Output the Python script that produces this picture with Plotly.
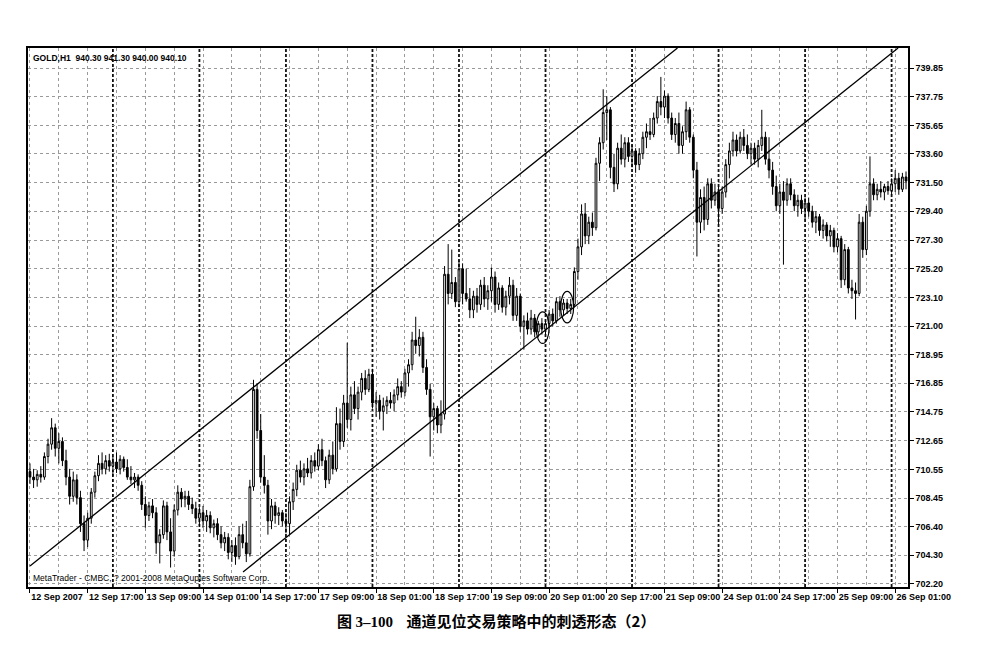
import plotly.graph_objects as go
import pandas as pd

# ---------------- data (GOLD, H1) ----------------
opens = [
    710.4, 710.0, 709.8, 710.2, 710.0, 711.5, 712.4, 713.6, 712.1, 712.6,
    711.2, 710.0, 708.6, 709.8, 708.5, 706.6, 705.4, 707.0, 708.9, 710.1,
    711.0, 710.6, 711.2, 710.8, 711.1, 710.6, 711.3, 710.7, 710.0, 709.8,
    710.0, 709.4, 708.0, 707.2, 707.9, 707.4, 705.2, 705.8, 707.9, 706.0,
    704.6, 707.6, 708.9, 708.4, 708.6, 708.0, 707.7, 707.0, 707.4, 706.8,
    707.2, 706.3, 706.6, 705.8, 705.2, 705.6, 704.5, 705.0, 704.2, 705.8,
    705.2, 704.4, 709.3, 716.4, 713.4, 710.0, 709.4, 706.8, 707.9, 707.2,
    707.4, 706.8, 706.6, 708.2, 709.1, 710.5, 710.0, 710.6, 710.3, 711.2,
    710.8, 712.0, 711.2, 709.8, 711.6, 710.6, 713.9, 712.6, 715.4, 714.2,
    716.0, 715.0, 716.2, 717.2, 716.4, 717.5, 715.4, 715.6, 714.8, 715.2,
    715.6, 715.4, 716.0, 716.6, 716.2, 717.6, 718.2, 720.0, 719.6, 720.2,
    718.0, 716.4, 714.4, 715.0, 713.8, 714.6, 724.8, 723.4, 724.2, 722.8,
    725.2, 723.4, 723.0, 722.2, 723.2, 722.6, 724.0, 723.0, 723.6, 724.6,
    722.6, 723.8, 722.4, 723.2, 724.0, 721.8, 723.2, 721.0, 721.4, 720.8,
    721.6, 720.6, 721.2, 720.8, 721.2, 721.9, 721.4, 722.8, 722.2, 722.7,
    722.3, 722.6, 725.0, 726.8, 729.2, 727.6, 728.6, 728.2, 732.9, 734.4,
    736.6, 736.8, 732.6, 731.4, 734.0, 733.2, 734.4, 733.4, 733.8, 732.8,
    733.6, 734.8, 735.2, 735.0, 736.2, 737.4, 737.0, 737.8, 736.2, 735.0,
    735.8, 734.2, 735.2, 736.8, 734.8, 732.4, 728.6, 730.4, 728.8, 731.4,
    730.2, 730.8, 729.6, 730.8, 732.8, 733.8, 734.6, 733.8, 734.8, 734.2,
    733.6, 734.0, 733.2, 734.2, 734.8, 733.2, 732.4, 731.2, 729.8, 730.8,
    730.2, 731.4, 730.6, 729.8, 730.2, 729.6, 730.0, 729.4, 728.6, 729.0,
    728.0, 728.4, 727.6, 728.0, 726.8, 727.4, 724.4, 726.6, 723.8, 723.6,
    723.4, 728.6, 726.6, 729.4, 731.4, 730.6, 731.0, 730.8, 731.2, 730.9,
    731.4, 731.8, 731.0, 731.9,
]
highs = [
    711.0, 710.6, 710.5, 710.8, 711.8, 712.8, 714.3, 713.9, 713.2, 712.9,
    712.0, 710.6, 710.4, 710.2, 709.0, 707.2, 707.4, 709.2, 710.4, 711.6,
    711.8, 711.6, 711.7, 711.5, 711.8, 711.6, 711.5, 711.3, 710.8, 710.3,
    710.2, 709.7, 708.6, 708.2, 708.4, 707.8, 706.2, 708.3, 708.2, 707.0,
    708.0, 709.4, 709.2, 709.0, 709.0, 708.5, 708.2, 707.8, 707.9, 707.6,
    707.5, 706.9, 707.0, 706.4, 706.0, 705.9, 705.4, 705.6, 706.4, 706.6,
    706.8, 709.8, 717.1, 716.8, 714.6, 711.6, 709.8, 708.4, 708.2, 707.8,
    707.6, 707.4, 708.6, 709.6, 710.9, 711.2, 711.0, 711.4, 711.6, 711.8,
    712.4, 712.8, 711.5, 712.0, 712.6, 715.1, 715.0, 716.0, 719.8, 716.6,
    717.0, 716.6, 717.6, 717.8, 717.9, 717.9, 716.2, 716.0, 715.8, 715.9,
    716.2, 716.4, 717.2, 717.0, 717.9, 718.6, 720.6, 721.7, 720.8, 720.6,
    718.6, 716.8, 715.4, 715.2, 715.6, 725.4, 727.0, 726.6, 724.6, 725.8,
    725.6, 725.2, 723.8, 723.6, 723.8, 724.4, 724.6, 724.0, 725.3, 725.0,
    724.2, 724.0, 723.6, 724.6, 724.4, 723.8, 723.4, 721.8, 722.0, 722.2,
    721.9, 721.4, 721.6, 721.4, 722.2, 722.3, 723.1, 723.2, 723.0, 723.0,
    723.0, 725.3, 727.4, 729.9, 730.0, 729.0, 729.3, 733.3, 734.8, 738.3,
    737.8, 737.0, 733.6, 734.4, 735.0, 734.8, 734.8, 734.2, 734.0, 734.0,
    735.2, 735.8, 736.2, 736.6, 737.8, 739.2, 738.2, 738.0, 736.6, 736.2,
    736.6, 735.6, 737.4, 737.0, 735.0, 733.0, 731.0, 731.2, 731.8, 731.8,
    731.4, 731.2, 731.2, 733.2, 734.4, 735.2, 735.0, 735.2, 735.4, 735.0,
    734.4, 734.4, 734.6, 736.8, 735.2, 734.8, 733.0, 732.0, 731.4, 731.6,
    731.8, 731.8, 731.0, 730.6, 730.6, 730.4, 730.4, 729.8, 729.4, 729.2,
    728.8, 728.6, 728.4, 728.2, 727.8, 727.6, 727.0, 726.8, 724.4, 724.2,
    729.2, 729.0, 729.8, 733.4, 731.8, 731.4, 731.6, 731.4, 731.6, 731.8,
    732.4, 732.2, 732.2, 732.3,
]
lows = [
    709.5, 709.2, 709.3, 709.6, 709.8, 711.0, 712.0, 711.5, 711.0, 710.8,
    709.4, 708.0, 708.2, 708.0, 706.0, 704.6, 704.9, 706.6, 708.5, 709.7,
    710.2, 710.2, 710.4, 710.1, 710.3, 710.2, 710.4, 709.8, 709.5, 709.2,
    709.0, 707.6, 706.3, 706.8, 707.0, 704.4, 703.7, 705.5, 705.4, 703.4,
    704.2, 707.2, 707.8, 707.8, 707.6, 707.3, 706.6, 706.4, 706.3, 706.0,
    705.9, 705.6, 705.4, 704.8, 704.6, 704.0, 703.8, 703.6, 704.0, 704.8,
    703.8, 704.2, 709.0, 712.8, 709.6, 708.8, 705.8, 706.2, 706.6, 706.5,
    706.4, 705.9, 705.8, 707.6, 708.6, 709.6, 709.4, 710.0, 709.9, 710.4,
    710.5, 710.8, 709.2, 709.5, 710.2, 710.4, 712.0, 712.2, 713.6, 713.4,
    714.6, 714.2, 715.6, 716.0, 716.2, 715.0, 714.4, 714.2, 713.4, 714.6,
    715.0, 714.8, 715.6, 715.8, 715.9, 716.6, 717.8, 719.0, 718.8, 717.6,
    716.0, 711.5, 713.4, 713.2, 713.2, 714.2, 722.6, 723.0, 722.4, 722.4,
    722.6, 722.8, 721.6, 721.6, 722.0, 722.2, 722.4, 722.2, 722.8, 722.0,
    722.2, 722.0, 721.8, 722.6, 721.4, 721.4, 720.6, 719.3, 720.4, 720.4,
    720.2, 720.2, 720.4, 720.4, 720.9, 721.0, 721.2, 721.7, 721.8, 721.9,
    721.9, 722.4, 724.4, 726.2, 727.0, 727.0, 727.6, 728.0, 731.6, 733.9,
    734.6, 731.8, 730.8, 731.0, 732.8, 732.6, 733.0, 732.6, 732.2, 732.4,
    733.2, 734.0, 734.6, 734.8, 735.8, 736.4, 736.2, 735.8, 734.6, 734.4,
    733.6, 733.6, 734.6, 734.4, 731.8, 726.1, 727.8, 728.0, 728.4, 729.6,
    729.8, 728.4, 729.2, 730.4, 731.8, 733.4, 733.4, 733.6, 733.8, 733.2,
    732.8, 732.8, 732.6, 733.8, 732.8, 731.8, 730.6, 729.4, 729.2, 725.5,
    729.8, 730.2, 729.4, 729.0, 729.2, 728.8, 729.0, 728.2, 727.8, 727.6,
    727.4, 727.2, 726.8, 726.4, 726.4, 723.8, 724.0, 723.4, 723.0, 721.5,
    723.2, 726.0, 726.2, 729.0, 730.2, 730.2, 730.4, 730.2, 730.6, 730.6,
    730.8, 730.6, 730.8, 731.0,
]
closes = [
    710.0, 709.8, 710.2, 710.0, 711.5, 712.4, 713.6, 712.1, 712.6, 711.2,
    710.0, 708.6, 709.8, 708.5, 706.6, 705.4, 707.0, 708.9, 710.1, 711.0,
    710.6, 711.2, 710.8, 711.1, 710.6, 711.3, 710.7, 710.0, 709.8, 710.0,
    709.4, 708.0, 707.2, 707.9, 707.4, 705.2, 705.8, 707.9, 706.0, 704.6,
    707.6, 708.9, 708.4, 708.6, 708.0, 707.7, 707.0, 707.4, 706.8, 707.2,
    706.3, 706.6, 705.8, 705.2, 705.6, 704.5, 705.0, 704.2, 705.8, 705.2,
    704.4, 709.3, 716.4, 713.4, 710.0, 709.4, 706.8, 707.9, 707.2, 707.4,
    706.8, 706.6, 708.2, 709.1, 710.5, 710.0, 710.6, 710.3, 711.2, 710.8,
    712.0, 711.2, 709.8, 711.6, 710.6, 713.9, 712.6, 715.4, 714.2, 716.0,
    715.0, 716.2, 717.2, 716.4, 717.5, 715.4, 715.6, 714.8, 715.2, 715.6,
    715.4, 716.0, 716.6, 716.2, 717.6, 718.2, 720.0, 719.6, 720.2, 718.0,
    716.4, 714.4, 715.0, 713.8, 714.6, 724.8, 723.4, 724.2, 722.8, 725.2,
    723.4, 723.0, 722.2, 723.2, 722.6, 724.0, 723.0, 723.6, 724.6, 722.6,
    723.8, 722.4, 723.2, 724.0, 721.8, 723.2, 721.0, 721.4, 720.8, 721.6,
    720.6, 721.2, 720.8, 721.2, 721.9, 721.4, 722.8, 722.2, 722.7, 722.3,
    722.6, 725.0, 726.8, 729.2, 727.6, 728.6, 728.2, 732.9, 734.4, 736.6,
    736.8, 732.6, 731.4, 734.0, 733.2, 734.4, 733.4, 733.8, 732.8, 733.6,
    734.8, 735.2, 735.0, 736.2, 737.4, 737.0, 737.8, 736.2, 735.0, 735.8,
    734.2, 735.2, 736.8, 734.8, 732.4, 728.6, 730.4, 728.8, 731.4, 730.2,
    730.8, 729.6, 730.8, 732.8, 733.8, 734.6, 733.8, 734.8, 734.2, 733.6,
    734.0, 733.2, 734.2, 734.8, 733.2, 732.4, 731.2, 729.8, 730.8, 730.2,
    731.4, 730.6, 729.8, 730.2, 729.6, 730.0, 729.4, 728.6, 729.0, 728.0,
    728.4, 727.6, 728.0, 726.8, 727.4, 724.4, 726.6, 723.8, 723.6, 723.4,
    728.6, 726.6, 729.4, 731.4, 730.6, 731.0, 730.8, 731.2, 730.9, 731.4,
    731.8, 731.0, 731.9, 731.6,
]

# hourly bars, weekends skipped (first bar 12 Sep 2007 01:00)
bar_times = [t for t in pd.date_range("2007-09-12 01:00", periods=400, freq="h")
             if t.weekday() < 5][:len(closes)]
bars = list(range(len(closes)))

x_tick_labels = ["12 Sep 2007", "12 Sep 17:00", "13 Sep 09:00", "14 Sep 01:00",
                 "14 Sep 17:00", "17 Sep 09:00", "18 Sep 01:00", "18 Sep 17:00",
                 "19 Sep 09:00", "20 Sep 01:00", "20 Sep 17:00", "21 Sep 09:00",
                 "24 Sep 01:00", "24 Sep 17:00", "25 Sep 09:00", "26 Sep 01:00"]
y_tick_labels = ["702.20", "704.30", "706.40", "708.45", "710.55", "712.65", "714.75",
                 "716.85", "718.95", "721.00", "723.10", "725.20", "727.30", "729.40",
                 "731.50", "733.60", "735.65", "737.75", "739.85"]

# channel lines (bar index, price)
channel_upper_bars = [0, 179.6]
channel_upper_prices = [703.51, 741.31]
channel_lower_bars = [59.1, 240.8]
channel_lower_prices = [703.08, 741.31]

# penetration points that are circled
circle_bars = [142.2, 149.0]
circle_prices = [720.9, 722.4]

header_text = "GOLD,H1  940.30 941.30 940.00 940.10"
footer_text = "MetaTrader - CMBC, ? 2001-2008 MetaQuptes Software Corp."
caption_text = ("<b>图 <span style='font-family:Liberation Serif'>3–100</span>"
                "&nbsp;&nbsp;&nbsp;&nbsp;通道见位交易策略中的刺透形态（2）</b>")

# ---------------- figure ----------------
TICK_STEP = 16
tick_vals = [i * TICK_STEP for i in range(len(x_tick_labels))]
minor_vals = [v + TICK_STEP // 2 for v in tick_vals]
separators = [i for i, t in enumerate(bar_times) if t.hour == 0]

fig = go.Figure()
fig.add_trace(go.Candlestick(
    x=bars, open=opens, high=highs, low=lows, close=closes,
    increasing=dict(line=dict(color="black", width=1), fillcolor="white"),
    decreasing=dict(line=dict(color="black", width=1), fillcolor="black"),
    whiskerwidth=0, hoverinfo="skip", showlegend=False,
))
fig.add_trace(go.Scatter(x=channel_upper_bars, y=channel_upper_prices, mode="lines",
                         line=dict(color="black", width=1.3), hoverinfo="skip", showlegend=False))
fig.add_trace(go.Scatter(x=channel_lower_bars, y=channel_lower_prices, mode="lines",
                         line=dict(color="black", width=1.3), hoverinfo="skip", showlegend=False))

shapes = []
for s in separators:
    shapes.append(dict(type="line", xref="x", yref="paper", x0=s, x1=s, y0=0, y1=1,
                       line=dict(color="#111", width=1.8, dash="3px,2px"), layer="below"))
for cb, cp in zip(circle_bars, circle_prices):
    shapes.append(dict(type="circle", xref="x", yref="y", x0=cb - 1.8, x1=cb + 1.8,
                       y0=cp - 1.15, y1=cp + 1.15, line=dict(color="black", width=1.2)))

tick_font = dict(family="Liberation Sans", size=9, color="black", weight="bold")

# the page body adds an 8px offset, so the figure is 8px smaller and margins shifted
fig.update_layout(
    width=983, height=654,
    margin=dict(l=20, r=83, t=40, b=75, autoexpand=False),
    paper_bgcolor="white", plot_bgcolor="white",
    shapes=shapes,
    showlegend=False,
    xaxis=dict(
        range=[-0.55, 243.55], rangeslider=dict(visible=False),
        tickmode="array", tickvals=tick_vals, ticktext=x_tick_labels,
        ticks="outside", ticklen=4, tickcolor="black",
        ticklabelposition="outside right", tickangle=0, automargin=False,
        tickfont=tick_font,
        showgrid=True, gridcolor="#9a9a9a", griddash="dot", gridwidth=1,
        minor=dict(tickvals=minor_vals, showgrid=True, gridcolor="#9a9a9a",
                   griddash="dot", gridwidth=1, ticks=""),
        showline=True, linecolor="black", linewidth=1.5, mirror=True,
        zeroline=False, fixedrange=True,
    ),
    yaxis=dict(
        side="right", automargin=False,
        range=[701.98, 741.31],
        tickmode="array", tickvals=[float(v) for v in y_tick_labels], ticktext=y_tick_labels,
        ticks="outside", ticklen=4, tickcolor="black",
        tickfont=tick_font,
        showgrid=True, gridcolor="#9a9a9a", griddash="dot", gridwidth=1,
        showline=True, linecolor="black", linewidth=1.5, mirror=True,
        zeroline=False, fixedrange=True,
    ),
    annotations=[
        dict(text=header_text, xref="paper", yref="paper", x=0, y=1,
             xanchor="left", yanchor="top", xshift=3, yshift=-3, showarrow=False,
             font=dict(family="Liberation Sans", size=8.5, color="black", weight="bold")),
        dict(text=footer_text, xref="paper", yref="paper", x=0, y=0,
             xanchor="left", yanchor="bottom", xshift=3, yshift=2, showarrow=False,
             font=dict(family="Liberation Sans", size=8.5, color="black")),
        dict(text=caption_text, xref="paper", yref="paper", x=0.532, y=0,
             xanchor="center", yanchor="middle", yshift=-33, showarrow=False,
             font=dict(family="Noto Sans CJK SC", size=15, color="black")),
    ],
)

fig.write_html("out.html")
